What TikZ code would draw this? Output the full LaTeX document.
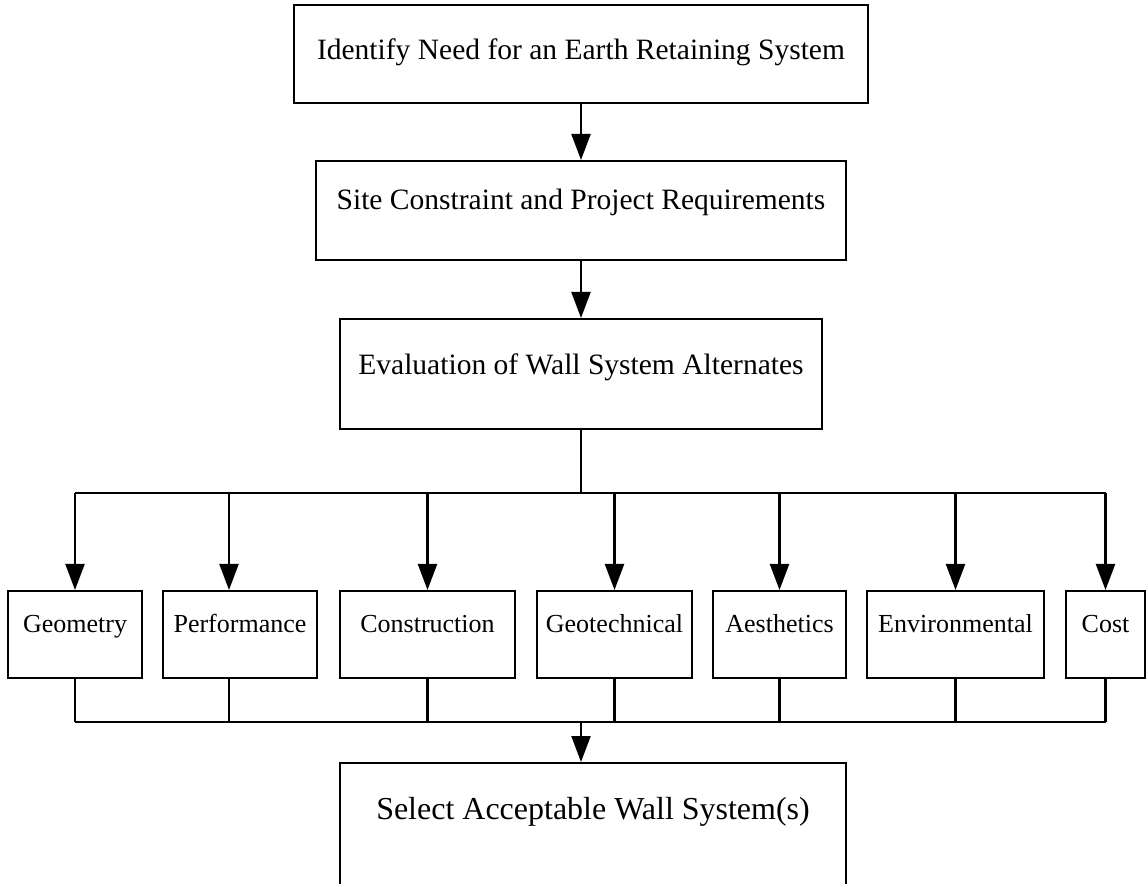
\documentclass[tikz,border=0pt]{standalone}
\usepackage{fontspec}
\setmainfont{Liberation Serif}
\usetikzlibrary{arrows.meta, positioning, calc}
\tikzset{
  stepbox/.style={draw, line width=1.25pt, inner sep=0pt, anchor=north, font=\fontsize{16.8}{20}\selectfont},
  factorbox/.style={stepbox, text height=0.82cm, text depth=0.92cm, font=\fontsize{14.8}{18}\selectfont},
  link/.style={line width=1.25pt},
  flow/.style={link, -{Triangle[length=0.52cm, width=0.38cm]}}
}

\begin{document}
\begin{tikzpicture}

\useasboundingbox (0,0) rectangle (22.92,-17.68);

% Main steps
\node[stepbox, minimum width=11.48cm, text height=1.08cm, text depth=0.88cm] (need) at (11.62,-0.08)
  {Identify Need for an Earth Retaining System};
\node[stepbox, minimum width=10.6cm, text height=0.96cm, text depth=1.02cm] (site) at (11.62,-3.2)
  {Site Constraint and Project Requirements};
\node[stepbox, minimum width=9.64cm, text height=1.1cm, text depth=1.1cm] (alts) at (11.62,-6.36)
  {Evaluation of Wall System Alternates};

% Evaluation factors
\node[factorbox, minimum width=2.68cm] (geom) at (1.5,-11.8) {Geometry};
\node[factorbox, minimum width=3.08cm] (perf) at (4.8,-11.8) {Performance};
\node[factorbox, minimum width=3.5cm] (cons) at (8.55,-11.8) {Construction};
\node[factorbox, minimum width=3.1cm] (geot) at (12.29,-11.8) {Geotechnical};
\node[factorbox, minimum width=2.66cm] (aest) at (15.59,-11.8) {Aesthetics};
\node[factorbox, minimum width=3.54cm] (envi) at (19.11,-11.8) {Environmental};
\node[factorbox, minimum width=1.58cm] (cost) at (22.11,-11.8) {Cost};

% Final selection
\node[stepbox, minimum width=10.12cm, text height=1.13cm, text depth=2cm,
  font=\fontsize{18.2}{22}\selectfont] (select) at (11.86,-15.24)
  {Select Acceptable Wall System(s)};

\coordinate (split) at (11.62,-9.86);
\coordinate (merge) at (11.62,-14.44);

% Connectors
\draw[flow] (need) -- (site);
\draw[flow] (site) -- (alts);
\draw[link] (alts) -- (split);
\draw[link] (split -| geom) -- (split -| cost);
\draw[link] (merge -| geom) -- (merge -| cost);
\foreach \b/\dx in {geom/0, perf/-0.22, cons/0, geot/0, aest/0, envi/0, cost/0} {
  \draw[flow] ([xshift=\dx cm]split -| \b) -- ([xshift=\dx cm]\b.north);
  \draw[link] ([xshift=\dx cm]\b.south) -- ([xshift=\dx cm]merge -| \b);
}
\draw[flow] (merge) -- (merge |- select.north);

\end{tikzpicture}
\end{document}
